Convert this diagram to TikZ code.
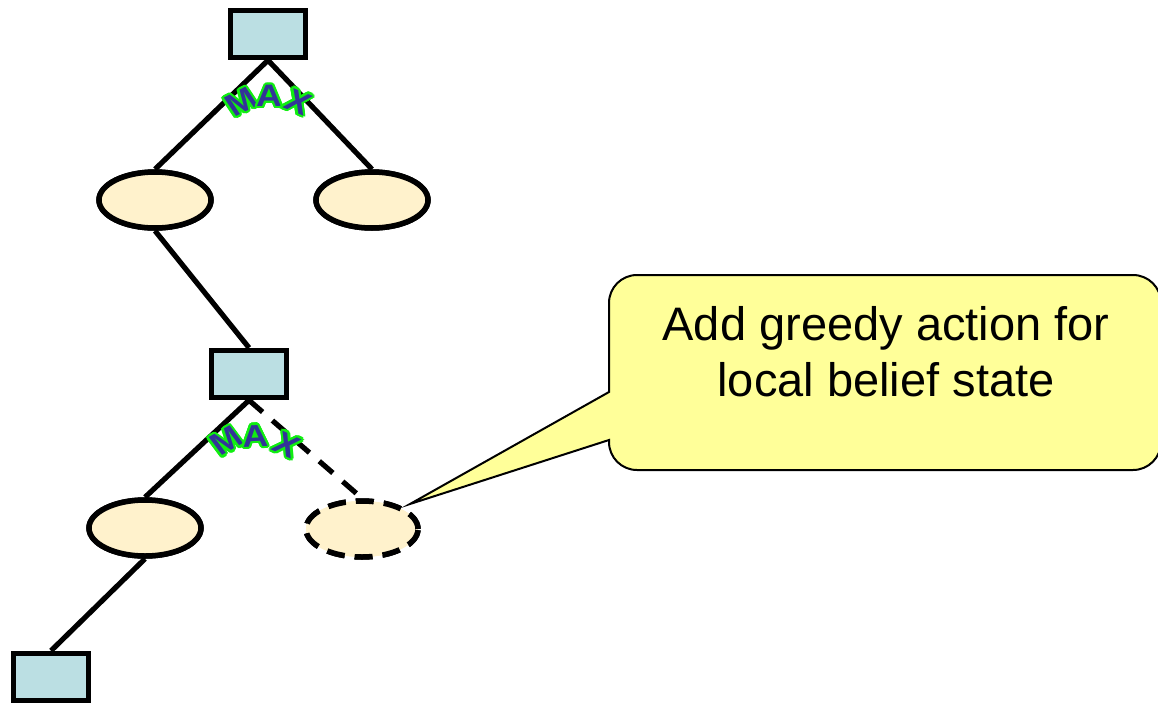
\documentclass[tikz,border=0pt]{standalone}
\usepackage{fontspec}
\setmainfont{Liberation Sans}
\usetikzlibrary{shapes.geometric,calc}
\definecolor{boxfill}{HTML}{BBDFE3}
\definecolor{ellfill}{HTML}{FFF2CC}
\definecolor{callfill}{HTML}{FFFF99}
\definecolor{maxblue}{HTML}{333399}
\definecolor{maxgreen}{HTML}{11EE11}
\tikzset{
  decbox/.style={draw, line width=5.5, fill=boxfill, minimum width=75, minimum height=47, inner sep=0},
  chance/.style={draw, ellipse, line width=5.5, fill=ellfill, minimum width=112, minimum height=56, inner sep=0},
  edge/.style={line width=5.2},
  dashededge/.style={line width=5.2, dash pattern=on 18pt off 13pt},
  maxfont/.style={inner sep=0, xscale=1.15, font=\bfseries\fontsize{31}{31}\selectfont},
  maxg/.style={maxfont, text=maxgreen},
  maxb/.style={maxfont, text=maxblue},
  callout/.style={draw, line width=2, fill=callfill},
}
\newcommand\maxlet[5]{%
  \foreach \a in {0,22.5,...,337.5}{\node[maxg,rotate=#4] at ($(#2,#3)+(\a:2.3)$) {#5};}
  \node[maxb,rotate=#4] (#1) at (#2,#3) {#5};}
\begin{document}
\begin{tikzpicture}[x=1pt,y=-1pt]
\useasboundingbox (0,0) rectangle (1158,704);
% nodes
\node[decbox] (b1) at (268,34) {};
\node[chance] (e1) at (155,200) {};
\node[chance] (e2) at (372,200) {};
\node[decbox] (b2) at (249,374) {};
\node[chance] (e3) at (145,528) {};
\node[chance, dash pattern=on 18pt off 10pt] (e4) at (362,529) {};
\node[decbox] (b3) at (51,677) {};
% connectors
\draw[edge] (b1.south) -- (e1.north);
\draw[edge] (b1.south) -- (e2.north);
\draw[edge] (e1.south) -- (b2.north);
\draw[edge] (b2.south) -- (e3.north);
\draw[dashededge] (b2.south) -- (e4.north);
\draw[edge] (e3.south) -- (b3.north);
% redraw nodes over line ends
\node[decbox] at (b1) {};
\node[chance] at (e1) {};
\node[chance] at (e2) {};
\node[decbox] at (b2) {};
\node[chance] at (e3) {};
\node[chance, dash pattern=on 18pt off 10pt] at (e4) {};
\node[decbox] at (b3) {};
% MAX labels
\maxlet{m1}{241}{102}{30}{M}
\maxlet{a1}{269}{96}{0}{A}
\maxlet{x1}{298}{102}{-25}{X}
\maxlet{m2}{226}{441}{33}{M}
\maxlet{a2}{255}{436}{3}{A}
\maxlet{x2}{287}{445}{-28}{X}
% callout
\coordinate (tip) at (410,504);
\draw[callout] (tip) -- (609,440) [rounded corners=28] -- (609,470) -- (1161,470) -- (1161,275) -- (609,275) [sharp corners] -- (609,392) -- cycle;
\node[font=\fontsize{47}{56}\selectfont, align=center] (calltext) at (886,352) {Add greedy action for\\local belief state};
\end{tikzpicture}
\end{document}
